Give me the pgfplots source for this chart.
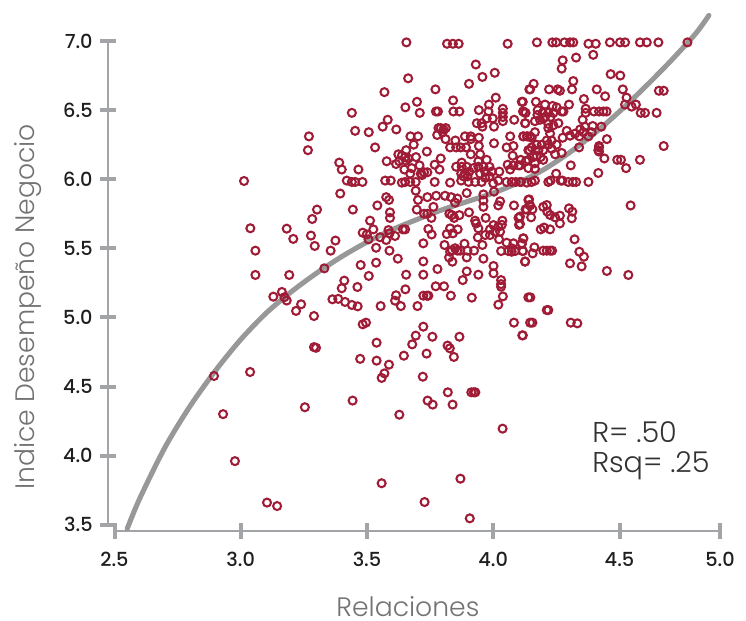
\documentclass[border=0pt]{standalone}
\usepackage{fontspec}
\setmainfont{Poppins}
\newfontfamily\lightfont{Poppins Light}
\newfontfamily\medfont{Poppins Medium}
\usepackage{pgfplots}
\usepackage{pgfplotstable}
\pgfplotsset{compat=1.18}
\definecolor{pt}{HTML}{A01C36}
\definecolor{cv}{HTML}{989899}
\definecolor{ax}{HTML}{A3A4A7}
\pgfplotstableread{
x y
3.656 6.99
3.817 6.98
3.840 6.98
3.863 6.98
4.057 6.98
3.931 6.83
4.006 6.77
3.957 6.74
3.904 6.69
3.663 6.73
3.569 6.63
3.771 6.65
3.841 6.57
3.698 6.56
3.652 6.52
3.709 6.48
3.773 6.49
3.781 6.49
3.842 6.49
3.866 6.49
3.943 6.50
4.010 6.59
3.983 6.54
3.981 6.49
4.038 6.51
4.038 6.48
4.038 6.45
4.038 6.42
4.113 6.56
4.118 6.49
4.126 6.48
4.143 6.65
3.44 6.48
3.582 6.43
3.562 6.38
3.453 6.35
3.507 6.34
3.616 6.36
3.783 6.37
3.792 6.37
3.803 6.36
3.812 6.37
3.80 6.34
3.778 6.32
3.811 6.29
3.672 6.31
3.702 6.31
3.685 6.25
3.532 6.23
3.737 6.20
3.655 6.21
3.624 6.18
3.638 6.17
3.651 6.16
3.664 6.15
3.655 6.135
3.694 6.16
3.578 6.13
3.615 6.11
3.627 6.13
3.677 6.08
3.708 6.10
3.648 6.07
3.792 6.15
3.768 6.105
3.787 6.07
3.713 6.04
3.726 6.05
3.739 6.05
3.718 6.03
3.671 6.04
3.466 6.07
3.44 5.98
3.453 5.98
3.482 5.98
3.572 5.99
3.594 5.99
3.638 5.975
3.651 5.98
3.671 5.98
3.693 5.98
3.768 5.98
3.829 5.975
3.873 5.99
3.902 5.98
3.928 5.98
3.954 5.98
4.0 5.97
4.02 5.99
4.053 5.98
4.073 5.98
4.089 5.98
4.106 5.98
4.133 5.975
3.850 6.28
3.888 6.31
3.911 6.31
3.943 6.30
3.911 6.29
3.829 6.23
3.853 6.23
3.871 6.23
3.892 6.23
3.943 6.24
4.003 6.26
4.053 6.23
4.080 6.24
4.067 6.31
4.119 6.31
4.133 6.31
4.146 6.31
3.911 6.18
3.948 6.18
3.974 6.14
3.941 6.13
4.077 6.17
4.139 6.21
4.109 6.14
4.129 6.13
4.057 6.105
4.080 6.10
4.100 6.10
4.067 6.07
4.024 6.055
3.875 6.12
3.853 6.09
3.875 6.09
3.895 6.09
3.873 6.04
3.888 6.04
3.905 6.055
3.921 6.08
3.882 6.02
3.898 6.02
3.941 6.09
3.961 6.09
3.985 6.09
3.994 6.055
3.968 6.055
3.948 6.04
3.985 6.02
3.968 6.01
3.954 6.405
3.974 6.44
3.998 6.44
3.935 6.405
3.957 6.38
4.003 6.38
4.083 6.43
4.127 6.405
4.173 6.99
4.234 6.99
4.249 6.99
4.282 6.99
4.304 6.99
4.317 6.99
4.377 6.98
4.406 6.98
4.462 6.99
4.502 6.99
4.522 6.99
4.581 6.99
4.608 6.99
4.654 6.99
4.769 6.99
4.396 6.90
4.328 6.88
4.275 6.86
4.271 6.80
4.465 6.76
4.503 6.75
4.317 6.71
4.160 6.69
4.146 6.65
4.221 6.65
4.255 6.65
4.264 6.64
4.312 6.65
4.410 6.65
4.443 6.60
4.513 6.65
4.528 6.59
4.656 6.64
4.675 6.64
4.359 6.58
4.300 6.54
4.169 6.56
4.205 6.54
4.235 6.53
4.251 6.52
4.117 6.56
4.522 6.54
4.548 6.525
4.565 6.54
4.584 6.48
4.601 6.48
4.647 6.48
4.366 6.51
4.366 6.48
4.399 6.49
4.419 6.49
4.436 6.49
4.449 6.49
4.119 6.49
4.128 6.48
4.176 6.50
4.196 6.48
4.218 6.48
4.238 6.48
4.271 6.49
4.278 6.49
4.175 6.465
4.198 6.44
4.227 6.45
4.185 6.43
4.165 6.42
4.205 6.45
4.126 6.405
4.258 6.405
4.238 6.39
4.218 6.40
4.354 6.43
4.363 6.38
4.344 6.36
4.394 6.385
4.428 6.38
4.218 6.37
4.225 6.33
4.165 6.34
4.291 6.35
4.324 6.33
4.304 6.315
4.119 6.31
4.135 6.31
4.152 6.30
4.275 6.30
4.341 6.31
4.377 6.31
4.390 6.34
4.357 6.34
4.450 6.29
4.212 6.28
4.231 6.28
4.251 6.25
4.172 6.25
4.192 6.25
4.218 6.25
4.152 6.23
4.143 6.21
4.179 6.21
4.198 6.21
4.231 6.22
4.340 6.23
4.419 6.24
4.419 6.23
4.416 6.21
4.419 6.20
4.675 6.24
4.159 6.16
4.139 6.14
4.172 6.17
4.198 6.14
4.188 6.16
4.245 6.18
4.271 6.19
4.440 6.15
4.491 6.14
4.506 6.14
4.581 6.14
4.307 6.10
4.526 6.08
4.165 6.115
4.139 6.08
4.165 6.075
4.106 6.10
4.416 6.045
4.249 6.04
4.377 5.98
4.152 5.98
4.165 5.99
4.218 5.98
4.227 5.99
4.267 5.99
4.274 5.99
4.297 5.98
4.315 5.98
4.328 5.98
4.110 5.98
3.895 5.90
3.961 5.89
4.003 5.91
3.693 5.917
3.739 5.87
3.774 5.88
3.809 5.88
3.833 5.87
3.858 5.86
3.849 5.83
3.702 5.85
3.576 5.87
3.587 5.85
3.961 5.845
3.961 5.80
4.027 5.84
4.020 5.81
4.082 5.81
3.763 5.80
3.541 5.81
3.444 5.78
3.697 5.78
3.726 5.75
3.739 5.75
3.755 5.72
3.591 5.76
3.591 5.72
3.826 5.75
3.836 5.74
3.845 5.72
3.866 5.74
3.904 5.76
3.970 5.72
3.928 5.70
3.932 5.68
3.941 5.644
4.036 5.70
4.034 5.67
4.10 5.72
4.102 5.67
4.133 5.78
4.146 5.81
4.139 5.85
3.512 5.70
3.525 5.637
3.483 5.613
3.499 5.60
3.506 5.565
3.552 5.58
3.576 5.56
3.585 5.632
3.589 5.608
3.611 5.589
3.642 5.637
3.651 5.637
3.743 5.64
3.756 5.60
3.829 5.644
3.816 5.603
3.840 5.608
3.859 5.637
4.001 5.668
4.020 5.656
3.987 5.637
4.007 5.62
4.027 5.62
3.968 5.596
3.987 5.596
3.939 5.579
4.023 5.565
4.119 5.572
3.723 5.536
3.536 5.504
3.807 5.524
3.886 5.533
3.957 5.524
4.053 5.54
4.080 5.536
4.113 5.531
3.589 5.483
3.836 5.487
3.849 5.50
3.858 5.483
3.829 5.475
3.869 5.483
3.898 5.483
3.924 5.483
4.031 5.48
4.060 5.48
4.073 5.50
4.086 5.48
4.117 5.48
4.073 5.475
3.622 5.425
3.825 5.434
3.838 5.403
3.895 5.434
3.961 5.425
3.723 5.405
3.536 5.396
3.475 5.379
4.126 5.405
4.001 5.372
4.001 5.319
3.779 5.35
3.895 5.333
3.655 5.309
3.723 5.309
3.941 5.309
3.507 5.30
3.879 5.27
4.031 5.27
4.031 5.241
4.031 5.222
3.462 5.22
3.772 5.225
3.805 5.225
3.652 5.203
3.723 5.157
3.737 5.157
3.743 5.157
3.832 5.157
3.615 5.16
3.611 5.121
3.915 5.143
4.038 5.152
4.139 5.145
3.44 5.09
3.463 5.08
3.554 5.082
3.634 5.082
3.700 5.082
4.020 5.092
3.496 4.962
3.483 4.95
4.082 4.962
4.146 4.962
3.723 4.933
3.693 4.868
3.759 4.86
3.866 4.86
4.115 4.87
4.544 5.81
4.142 5.854
4.143 5.813
4.128 5.782
4.155 5.782
4.150 5.724
4.106 5.73
4.106 5.676
4.198 5.80
4.212 5.813
4.214 5.765
4.225 5.741
4.245 5.724
4.264 5.736
4.264 5.68
4.300 5.789
4.313 5.765
4.311 5.717
4.188 5.637
4.201 5.65
4.225 5.637
4.119 5.572
4.113 5.536
4.322 5.565
4.117 5.48
4.156 5.463
4.163 5.507
4.126 5.403
4.198 5.483
4.212 5.483
4.225 5.483
4.233 5.483
4.341 5.475
4.359 5.439
4.304 5.391
4.350 5.369
4.450 5.336
4.535 5.307
4.147 5.145
4.212 5.053
4.218 5.053
4.155 4.962
4.307 4.962
4.333 4.957
4.117 4.87
3.538 4.817
3.679 4.805
3.473 4.70
3.538 4.687
3.587 4.658
3.646 4.723
3.736 4.738
3.819 4.796
3.828 4.776
3.844 4.714
3.569 4.595
3.558 4.562
3.721 4.571
3.820 4.458
3.913 4.458
3.923 4.458
3.929 4.458
3.443 4.398
3.740 4.398
3.760 4.369
3.839 4.369
3.628 4.296
4.037 4.195
3.870 3.833
3.558 3.80
3.728 3.664
3.907 3.546
3.013 5.987
3.038 5.645
3.182 5.642
3.208 5.568
3.058 5.483
3.058 5.307
3.192 5.307
3.129 5.15
3.163 5.184
3.173 5.146
3.182 5.122
3.239 5.095
3.219 5.047
3.290 5.01
3.331 5.355
3.278 5.592
3.293 5.517
3.375 5.556
3.356 5.483
3.283 5.712
3.302 5.78
3.394 5.896
3.42 5.99
3.39 6.12
3.40 6.07
3.41 5.266
3.40 5.211
3.363 5.131
3.386 5.134
3.413 5.112
3.27 6.31
3.266 6.21
2.894 4.576
2.93 4.30
2.977 3.96
3.104 3.66
3.144 3.635
3.037 4.605
3.254 4.35
3.298 4.78
3.29 4.785
}\pts
\begin{document}
\begin{tikzpicture}
\begin{axis}[
  scale only axis, width=478.5pt, height=398.25pt,
  xmin=2.4743, xmax=5.001, ymin=3.4544, ymax=7.2967,
  clip=false,
  axis line style={draw=none},
  axis x line*=bottom, axis y line*=left,
  xtick={2.5,3,3.5,4,4.5,4.898},
  xticklabels={2.5,3.0,3.5,4.0,4.5,5.0},
  ytick={3.5,4,4.5,5,5.5,6,6.5,7},
  yticklabels={3.5,4.0,4.5,5.0,5.5,6.0,6.5,7.0},
  tick align=center, major tick length=12pt,
  tick style={draw=ax, line width=3pt},
  /pgf/number format/assume math mode=true,
  tick label style={font=\medfont\fontsize{14.5}{16}\selectfont, text=black!88},
  xticklabel style={yshift=-6.5pt},
  yticklabel style={xshift=-2pt},
]
\path (axis cs:2.0465,2.8055) rectangle (axis cs:5.001,7.2967);
\draw[ax, line width=2pt] (axis cs:2.4743,3.5) -- (axis cs:2.4743,7);
\draw[ax, line width=2pt] (axis cs:2.5,3.4544) -- (axis cs:4.898,3.4544);
\addplot[cv, line width=3.8pt, smooth, line cap=round, no marks] coordinates {
(2.55,3.47) (2.6,3.69) (2.7,4.06) (2.8,4.36) (2.9,4.615) (3.0,4.84) (3.1,5.03)
(3.2,5.185) (3.3,5.32) (3.4,5.44) (3.5,5.545) (3.6,5.635) (3.7,5.71) (3.8,5.78)
(3.9,5.84) (4.0,5.90) (4.1,5.975) (4.2,6.07) (4.3,6.19) (4.4,6.33) (4.5,6.49)
(4.6,6.665) (4.7,6.85) (4.8,7.05) (4.854,7.185)};
\addplot[only marks, mark=o, mark size=3pt, mark options={draw=pt, line width=1.55pt, fill=none}] table[x=x,y=y] {\pts};
\node[anchor=west, inner sep=0pt, font=\lightfont\fontsize{21.5}{24}\selectfont, text=black!80] at (axis cs:4.391,4.171) {R= .50};
\node[anchor=west, inner sep=0pt, font=\lightfont\fontsize{21.5}{24}\selectfont, text=black!80] at (axis cs:4.391,3.925) {Rsq= .25};
\node[inner sep=0pt, font=\lightfont\fontsize{20}{22}\selectfont, text=black!55] at (axis cs:3.662,2.91) {Relaciones};
\node[rotate=90, font=\lightfont\fontsize{20}{22}\selectfont, text=black!55] at (axis cs:2.157,5.075) {Indice Desempeño Negocio};
\end{axis}
\end{tikzpicture}
\end{document}
